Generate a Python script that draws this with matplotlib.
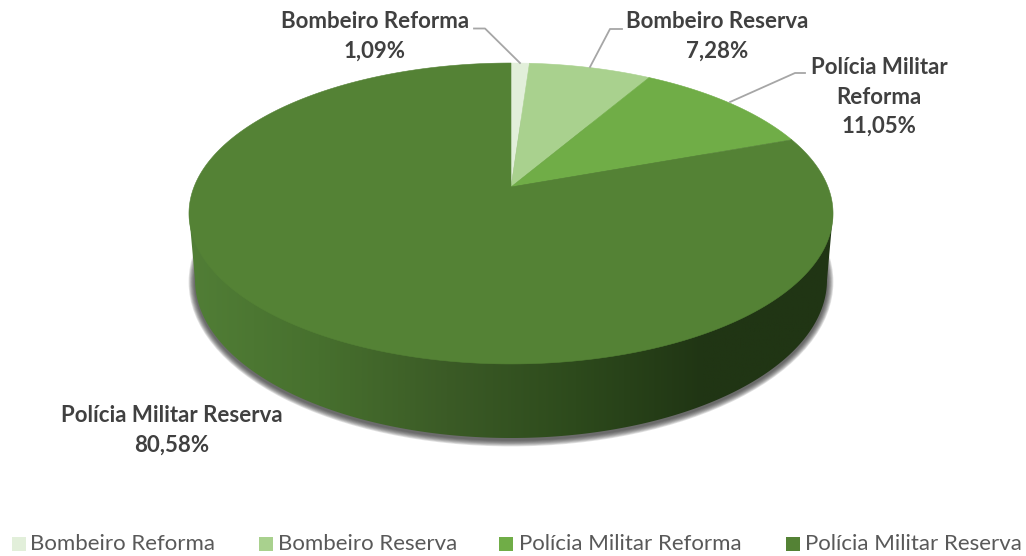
#!/usr/bin/env python3
import numpy as np
import matplotlib
matplotlib.use("Agg")
import matplotlib.pyplot as plt
from matplotlib.colors import LinearSegmentedColormap
from matplotlib.patches import Ellipse, Polygon, Rectangle

categories = ["Bombeiro Reforma", "Bombeiro Reserva", "Polícia Militar Reforma", "Polícia Militar Reserva"]
values = [1.09, 7.28, 11.05, 80.58]
value_labels = ["1,09%", "7,28%", "11,05%", "80,58%"]
colors = ["#E2EFDA", "#A9D18E", "#70AD47", "#548235"]
side_colors = ["#517E36", "#47702E", "#3B5B26", "#2D4A1C", "#203514", "#203514"]

TEXT = "#404040"
LEADER = "#A6A6A6"

# perspective pie, everything in pixels of the 1026x556 picture
CX, CY = 511, 187
A, B, K = 317, 145.8, 0.176
BOT_CY, BOT_RX, BOT_RY = 280, 316, 158


def rim(t):
    t = np.asarray(t)
    w = 1 + K * np.cos(t)
    return CX + A * np.sin(t) / w, CY - B * np.cos(t) / w


plt.rcParams["font.family"] = ["Lato", "DejaVu Sans"]

fig = plt.figure(figsize=(10.26, 5.56), dpi=100)
ax = fig.add_axes([0, 0, 1, 1])

# soft shadow under the disc
for i in range(8, 0, -1):
    ax.add_patch(Ellipse((CX, BOT_CY + 2), 2 * (BOT_RX + i * 0.8), 2 * (BOT_RY + i * 0.8),
                         fc="#303030", ec="none", alpha=0.14, zorder=1))

# side wall with horizontal gradient
th = np.linspace(0, np.pi, 300)
x_bot = CX + BOT_RX * np.cos(th)
y_bot = BOT_CY + BOT_RY * np.sin(th)
wall_pts = np.r_[[[833, 213]], np.c_[x_bot, y_bot], [[189, 213]]]
wall = Polygon(wall_pts, closed=True, fc="none", ec="none")
ax.add_patch(wall)
cmap = LinearSegmentedColormap.from_list("side", side_colors)
grad = np.linspace(0, 1, 512).reshape(1, -1)
img = ax.imshow(grad, extent=[189, 833, 445, 200], cmap=cmap, aspect="auto", zorder=2)
img.set_clip_path(wall)

# top slices
start = 0.0
for val, col in zip(values, colors):
    end = start + val
    t = np.linspace(start, end, max(int(val * 8), 8)) / 100 * 2 * np.pi
    x, y = rim(t)
    ax.fill(np.r_[CX, x], np.r_[CY, y], color=col, lw=0.4, zorder=3)
    start = end

# leader lines
ax.plot([474, 485, 520], [28.5, 28.5, 63], color=LEADER, lw=1.3, zorder=4)
ax.plot([622, 610, 590], [29, 29, 67], color=LEADER, lw=1.3, zorder=4)
ax.plot([805, 795, 730], [73, 73, 102], color=LEADER, lw=1.3, zorder=4)

# data labels
lab = dict(ha="center", va="center", fontsize=16, fontweight="bold", color=TEXT, zorder=5)
ax.text(375, 22, categories[0], **lab)
ax.text(375, 51, value_labels[0], **lab)
ax.text(717, 21, categories[1], **lab)
ax.text(717, 51, value_labels[1], **lab)
ax.text(879, 67, "Polícia Militar", **lab)
ax.text(879, 97, "Reforma", **lab)
ax.text(879, 126, value_labels[2], **lab)
ax.text(172, 415, categories[3], **lab)
ax.text(172, 445, value_labels[3], **lab)

# legend
leg_box = [12, 259, 499, 786]
leg_txt = [30, 278, 519, 805]
for bx, tx, name, col in zip(leg_box, leg_txt, categories, colors):
    ax.add_patch(Rectangle((bx, 537), 14, 14, fc=col, ec="none"))
    ax.text(tx, 544.5, name, ha="left", va="center", fontsize=16, color="#595959")

ax.set_xlim(0, 1026)
ax.set_ylim(556, 0)
ax.axis("off")

fig.savefig("out.png", dpi=100)
